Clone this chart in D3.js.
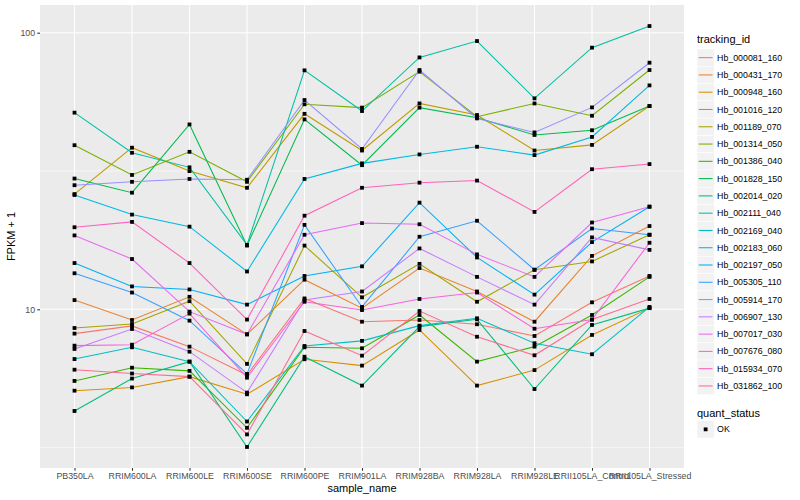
<!DOCTYPE html>
<html><head><meta charset="utf-8">
<script src="https://cdn.jsdelivr.net/npm/d3@7/dist/d3.min.js"></script>
<style>body{margin:0;background:#fff}svg{display:block;font-family:"Liberation Sans",Arial,Helvetica,sans-serif}</style>
</head><body><svg id="chart" width="800" height="500"></svg>
<script>
// ---- data ----
const categories = ["PB350LA","RRIM600LA","RRIM600LE","RRIM600SE","RRIM600PE","RRIM901LA","RRIM928BA","RRIM928LA","RRIM928LE","RRII105LA_Control","RRII105LA_Stressed"];
const trackingIds = ["Hb_000081_160","Hb_000431_170","Hb_000948_160","Hb_001016_120","Hb_001189_070","Hb_001314_050","Hb_001386_040","Hb_001828_150","Hb_002014_020","Hb_002111_040","Hb_002169_040","Hb_002183_060","Hb_002197_050","Hb_005305_110","Hb_005914_170","Hb_006907_130","Hb_007017_030","Hb_007676_080","Hb_015934_070","Hb_031862_100"];
const Hb_000081_160 = [8.17, 8.71, 7.33, 5.79, 10.95, 9.02, 9.15, 8.83, 8.01, 10.6, 13.2];
const Hb_000431_170 = [10.8, 9.15, 11.1, 8.12, 12.8, 10.1, 14.1, 11.6, 9.02, 15.6, 20.0];
const Hb_000948_160 = [5.08, 5.22, 5.71, 4.93, 6.60, 6.26, 8.42, 5.30, 6.03, 8.08, 10.1];
const Hb_001016_120 = [26.1, 38.4, 31.6, 27.5, 50.9, 37.5, 55.5, 50.4, 37.5, 39.3, 54.3];
const Hb_001189_070 = [8.56, 8.85, 10.7, 6.35, 17.0, 11.05, 14.6, 10.65, 13.9, 14.9, 18.6];
const Hb_001314_050 = [39.2, 30.6, 37.1, 28.9, 55.1, 53.6, 72.3, 49.7, 55.5, 50.1, 73.3];
const Hb_001386_040 = [5.51, 6.15, 5.99, 3.73, 7.29, 7.23, 9.54, 6.47, 7.33, 9.54, 13.1];
const Hb_001828_150 = [29.7, 26.4, 46.6, 17.0, 48.6, 33.2, 53.6, 49.3, 42.7, 44.4, 54.3];
const Hb_002014_020 = [4.29, 5.62, 6.47, 3.18, 6.74, 5.30, 8.66, 9.20, 5.15, 8.78, 10.1];
const Hb_002111_040 = [51.4, 36.8, 32.6, 17.1, 73.1, 52.1, 81.4, 93.3, 57.9, 88.3, 105.7];
const Hb_002169_040 = [6.61, 7.29, 6.47, 3.93, 7.37, 7.69, 8.73, 9.28, 7.54, 6.88, 10.2];
const Hb_002183_060 = [25.9, 22.0, 19.9, 13.7, 29.6, 33.7, 36.3, 38.7, 36.1, 42.0, 64.5];
const Hb_002197_050 = [14.7, 12.1, 11.8, 10.4, 13.2, 14.3, 24.3, 15.4, 11.3, 17.5, 23.5];
const Hb_005305_110 = [13.5, 11.5, 9.10, 5.84, 20.2, 10.2, 18.3, 20.9, 13.9, 19.6, 18.6];
const Hb_005914_170 = [28.1, 28.9, 29.6, 29.4, 57.1, 38.0, 73.3, 49.0, 43.6, 53.7, 77.9];
const Hb_006907_130 = [7.19, 8.49, 7.03, 5.00, 10.8, 11.6, 16.6, 13.1, 10.4, 18.2, 16.4];
const Hb_007017_030 = [18.5, 15.2, 9.81, 8.12, 18.6, 20.5, 20.3, 15.8, 13.1, 20.6, 23.5];
const Hb_007676_080 = [7.39, 7.45, 9.65, 5.66, 10.65, 9.94, 10.9, 11.5, 8.51, 9.18, 17.4];
const Hb_015934_070 = [19.8, 20.7, 14.7, 9.18, 21.8, 27.5, 28.7, 29.2, 22.5, 32.1, 33.5];
const Hb_031862_100 = [6.05, 5.86, 5.71, 3.53, 8.35, 6.80, 9.86, 7.96, 6.82, 9.18, 10.9];
const seriesValues = [Hb_000081_160,Hb_000431_170,Hb_000948_160,Hb_001016_120,Hb_001189_070,Hb_001314_050,Hb_001386_040,Hb_001828_150,Hb_002014_020,Hb_002111_040,Hb_002169_040,Hb_002183_060,Hb_002197_050,Hb_005305_110,Hb_005914_170,Hb_006907_130,Hb_007017_030,Hb_007676_080,Hb_015934_070,Hb_031862_100];
const quantStatus = ["OK"];
const yTickValues = [10, 100];
const yMinorValues = [Math.sqrt(10), Math.sqrt(1000)];

// ---- styles ----
const palette = ["#F8766D","#EA8331","#D89000","#C09B00","#A3A500","#7CAE00","#39B600","#00BB4E","#00BF7D","#00C1A3","#00BFC4","#00BAE0","#00B0F6","#35A2FF","#9590FF","#C77CFF","#E76BF3","#FA62DB","#FF62BC","#FF6C91"];
const panel = {left: 40, right: 684, top: 5, bottom: 468};

const svg = d3.select("#chart");
const series = trackingIds.map((id, i) => ({id, color: palette[i], values: seriesValues[i].map((v, j) => ({cat: categories[j], v}))}));

const x = d3.scalePoint().domain(categories).range([panel.left, panel.right]).padding(0.6);
const all = seriesValues.flat();
const lmin = Math.log10(d3.min(all)), lmax = Math.log10(d3.max(all));
const ex = (lmax - lmin) * 0.05;
const y = d3.scaleLog().domain([Math.pow(10, lmin - ex), Math.pow(10, lmax + ex)]).range([panel.bottom, panel.top]);

// panel background
svg.append("rect").attr("x", panel.left).attr("y", panel.top)
  .attr("width", panel.right - panel.left).attr("height", panel.bottom - panel.top).attr("fill", "#EBEBEB");

// gridlines
const g = svg.append("g");
g.selectAll(".minor").data(yMinorValues).join("line")
  .attr("x1", panel.left).attr("x2", panel.right).attr("y1", d => y(d)).attr("y2", d => y(d))
  .attr("stroke", "#fff").attr("stroke-width", 0.53);
g.selectAll(".majy").data(yTickValues).join("line")
  .attr("x1", panel.left).attr("x2", panel.right).attr("y1", d => y(d)).attr("y2", d => y(d))
  .attr("stroke", "#fff").attr("stroke-width", 1.07);
g.selectAll(".majx").data(categories).join("line")
  .attr("x1", d => x(d)).attr("x2", d => x(d)).attr("y1", panel.top).attr("y2", panel.bottom)
  .attr("stroke", "#fff").attr("stroke-width", 1.07);

// lines
const line = d3.line().x(d => x(d.cat)).y(d => y(d.v));
svg.append("g").selectAll("path").data(series).join("path")
  .attr("d", d => line(d.values)).attr("fill", "none")
  .attr("stroke", d => d.color).attr("stroke-width", 1.07);

// points
const ps = 3.8;
svg.append("g").selectAll("g").data(series).join("g")
  .selectAll("rect").data(d => d.values).join("rect")
  .attr("x", d => x(d.cat) - ps/2).attr("y", d => y(d.v) - ps/2)
  .attr("width", ps).attr("height", ps).attr("fill", "#000");

// axes
const yAxis = svg.append("g").attr("transform", `translate(${panel.left},0)`)
  .call(d3.axisLeft(y).tickValues(yTickValues).tickFormat(d3.format("d")).tickSize(2.75).tickPadding(2.2));
const xAxis = svg.append("g").attr("transform", `translate(0,${panel.bottom})`)
  .call(d3.axisBottom(x).tickSize(2.75).tickPadding(2.2));
[yAxis, xAxis].forEach(a => {
  a.select(".domain").remove();
  a.selectAll(".tick line").attr("stroke", "#333333").attr("stroke-width", 1.07);
  a.selectAll(".tick text").attr("fill", "#4D4D4D").attr("font-size", 8.8)
    .attr("font-family", '"Liberation Sans",Arial,sans-serif');
});

// axis titles
svg.append("text").attr("x", (panel.left + panel.right) / 2).attr("y", 492)
  .attr("text-anchor", "middle").attr("font-size", 11).attr("fill", "#000").text("sample_name");
svg.append("text").attr("transform", `translate(15,${(panel.top + panel.bottom) / 2}) rotate(-90)`)
  .attr("text-anchor", "middle").attr("font-size", 11).attr("fill", "#000").text("FPKM + 1");

// legend: tracking_id
const lx = 697, ly0 = 49, ks = 17.28;
svg.append("text").attr("x", lx).attr("y", 43).attr("font-size", 11).attr("fill", "#000").text("tracking_id");
const leg = svg.append("g").selectAll("g").data(series).join("g")
  .attr("transform", (d, i) => `translate(${lx},${ly0 + i * ks})`);
leg.append("rect").attr("width", ks).attr("height", ks).attr("fill", "#F2F2F2").attr("stroke", "#fff").attr("stroke-width", 0.5);
leg.append("line").attr("x1", ks * 0.1).attr("x2", ks * 0.9).attr("y1", ks / 2).attr("y2", ks / 2)
  .attr("stroke", d => d.color).attr("stroke-width", 1.07);
leg.append("text").attr("x", ks + 2.8).attr("y", ks / 2 + 3.1).attr("font-size", 8.8).attr("fill", "#000").text(d => d.id);

// legend: quant_status
const qy = 420.7;
svg.append("text").attr("x", lx).attr("y", 416.5).attr("font-size", 11).attr("fill", "#000").text("quant_status");
const qleg = svg.append("g").selectAll("g").data(quantStatus).join("g")
  .attr("transform", (d, i) => `translate(${lx},${qy + i * ks})`);
qleg.append("rect").attr("width", ks).attr("height", ks).attr("fill", "#F2F2F2").attr("stroke", "#fff").attr("stroke-width", 0.5);
qleg.append("rect").attr("x", ks/2 - ps/2).attr("y", ks/2 - ps/2).attr("width", ps).attr("height", ps).attr("fill", "#000");
qleg.append("text").attr("x", ks + 2.8).attr("y", ks / 2 + 3.1).attr("font-size", 8.8).attr("fill", "#000").text(d => d);
</script>
</body></html>
